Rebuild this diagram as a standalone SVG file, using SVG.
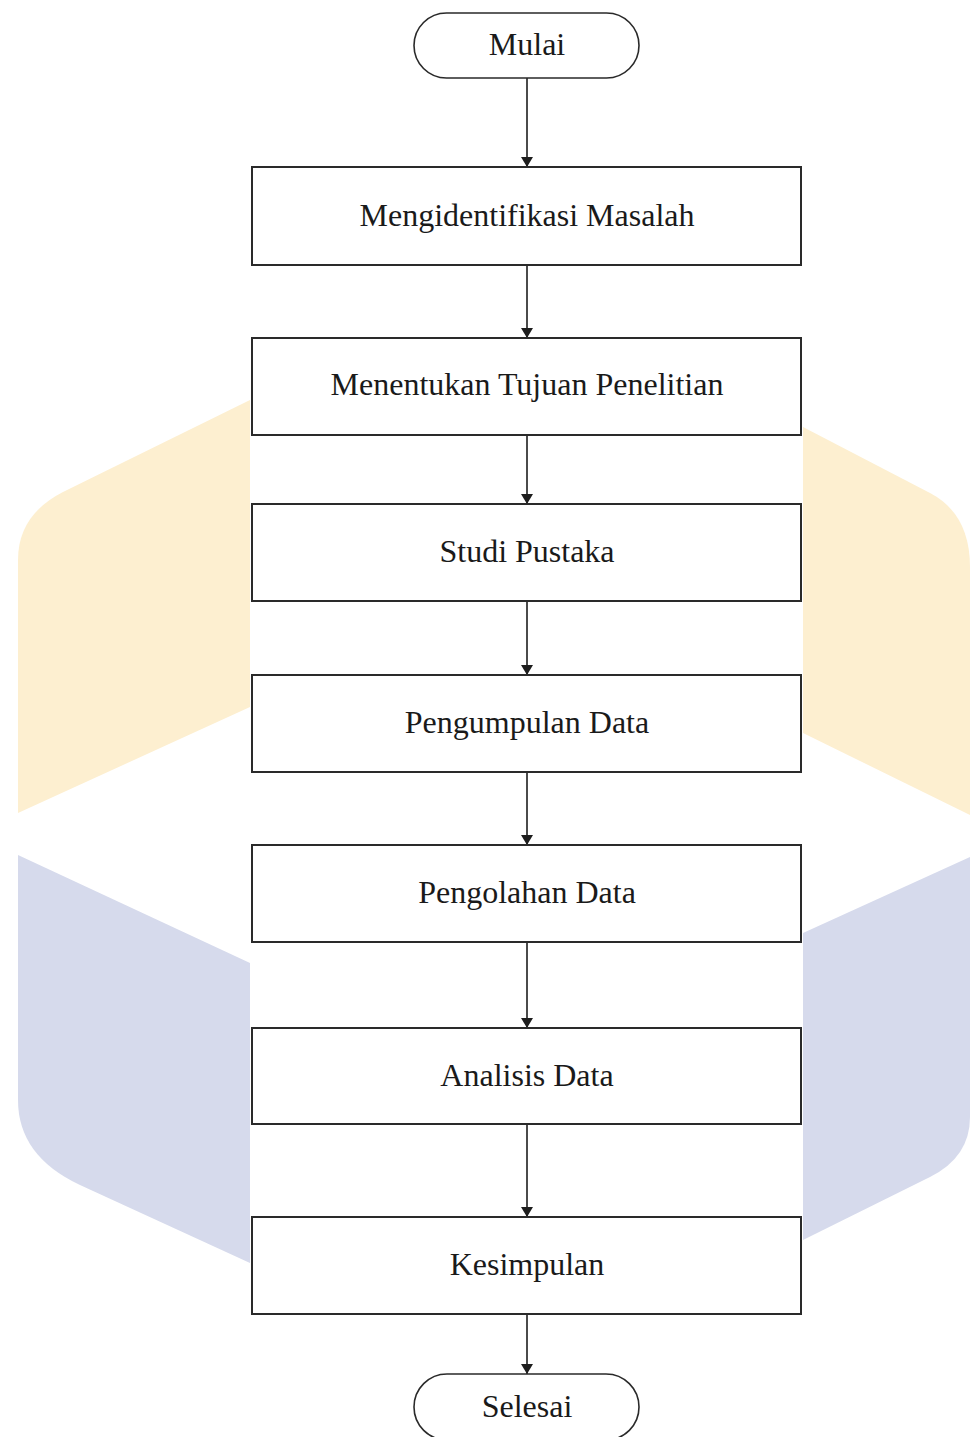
<svg xmlns="http://www.w3.org/2000/svg" width="975" height="1437" viewBox="0 0 975 1437">
  <defs>
    <style>
      .box { fill: #ffffff; stroke: #2a2a2a; stroke-width: 2; }
      .term { fill: #ffffff; stroke: #2a2a2a; stroke-width: 1.6; }
      .lbl { font-family: "Liberation Serif", "Times New Roman", serif; font-size: 32px; fill: #1a1a1a; text-anchor: middle; }
      .conn { stroke: #1e1e1e; stroke-width: 1.6; fill: none; marker-end: url(#arrow); }
      .wm-o { fill: #FDEFD0; }
      .wm-b { fill: #D6DAEC; }
    </style>
    <marker id="arrow" viewBox="0 0 10 12" refX="10" refY="6" markerWidth="10" markerHeight="12" markerUnits="userSpaceOnUse" orient="auto">
      <path d="M0,0 L10,6 L0,12 Z" fill="#1e1e1e"/>
    </marker>
  </defs>

  <rect width="975" height="1437" fill="#ffffff"/>

  <g id="watermark">
    <path class="wm-o" d="M250,400 L63,492 Q18,515 18,560 L18,813 L250,707 Z"/>
    <path class="wm-o" d="M803,427 L930,493 Q970,514 970,567 L970,815 L803,733 Z"/>
    <path class="wm-b" d="M18,855 L250,963 L250,1263 L80,1185 Q18,1156 18,1100 Z"/>
    <path class="wm-b" d="M803,933 L970,857 L970,1117 Q970,1157 930,1177 L803,1240 Z"/>
    <rect x="251" y="0" width="552" height="1437" fill="#ffffff"/>
  </g>

  <g id="connectors">
    <line class="conn" x1="527" y1="78" x2="527" y2="167"/>
    <line class="conn" x1="527" y1="265" x2="527" y2="338"/>
    <line class="conn" x1="527" y1="435" x2="527" y2="504"/>
    <line class="conn" x1="527" y1="601" x2="527" y2="675"/>
    <line class="conn" x1="527" y1="772" x2="527" y2="845"/>
    <line class="conn" x1="527" y1="942" x2="527" y2="1028"/>
    <line class="conn" x1="527" y1="1124" x2="527" y2="1217"/>
    <line class="conn" x1="527" y1="1314" x2="527" y2="1374"/>
  </g>

  <g id="mulai">
    <rect class="term" x="414" y="13" width="225" height="65" rx="32.5" ry="32.5"/>
    <text class="lbl" x="527" y="55">Mulai</text>
  </g>
  <g id="mengidentifikasi-masalah">
    <rect class="box" x="252" y="167" width="549" height="98"/>
    <text class="lbl" x="527" y="226">Mengidentifikasi Masalah</text>
  </g>
  <g id="menentukan-tujuan">
    <rect class="box" x="252" y="338" width="549" height="97"/>
    <text class="lbl" x="527" y="395">Menentukan Tujuan Penelitian</text>
  </g>
  <g id="studi-pustaka">
    <rect class="box" x="252" y="504" width="549" height="97"/>
    <text class="lbl" x="527" y="562">Studi Pustaka</text>
  </g>
  <g id="pengumpulan-data">
    <rect class="box" x="252" y="675" width="549" height="97"/>
    <text class="lbl" x="527" y="733">Pengumpulan Data</text>
  </g>
  <g id="pengolahan-data">
    <rect class="box" x="252" y="845" width="549" height="97"/>
    <text class="lbl" x="527" y="903">Pengolahan Data</text>
  </g>
  <g id="analisis-data">
    <rect class="box" x="252" y="1028" width="549" height="96"/>
    <text class="lbl" x="527" y="1086">Analisis Data</text>
  </g>
  <g id="kesimpulan">
    <rect class="box" x="252" y="1217" width="549" height="97"/>
    <text class="lbl" x="527" y="1275">Kesimpulan</text>
  </g>
  <g id="selesai">
    <rect class="term" x="414" y="1374" width="225" height="66" rx="33" ry="33"/>
    <text class="lbl" x="527" y="1417">Selesai</text>
  </g>
</svg>
